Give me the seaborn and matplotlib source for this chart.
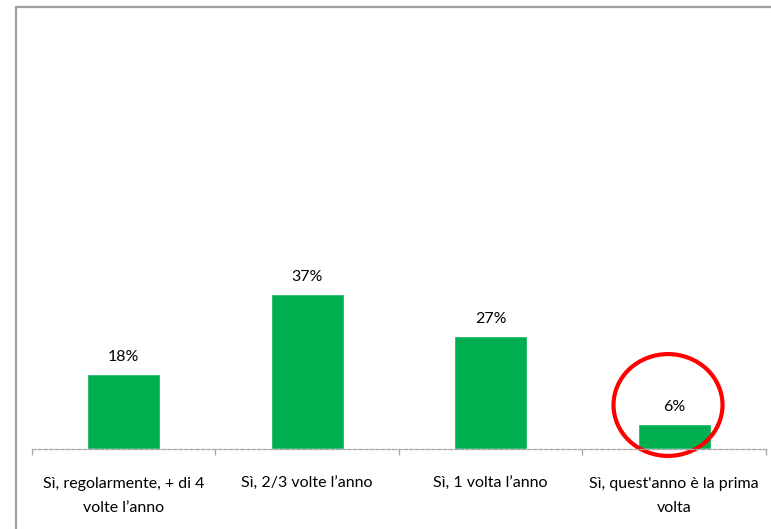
import matplotlib
matplotlib.use("Agg")
import matplotlib.pyplot as plt
from matplotlib.lines import Line2D
from matplotlib.patches import Ellipse
import seaborn as sns
import pandas as pd

# Survey answers and their shares (%)
categories = [
    "Sì, regolarmente, + di 4\nvolte l’anno",
    "Sì, 2/3 volte l’anno",
    "Sì, 1 volta l’anno",
    "Sì, quest'anno è la prima\nvolta",
]
shares = [18, 37, 27, 6]
highlight_index = 3

sns.set_theme(style="white")
plt.rcParams["font.family"] = ["Lato", "DejaVu Sans"]

W, H = 771, 529
fig = plt.figure(figsize=(W / 100, H / 100), dpi=100)
fig.patch.set_facecolor("white")

left_px, right_px, base_px, top_px = 32, 766, 449, 30
ax = fig.add_axes([left_px / W, (H - base_px) / H,
                   (right_px - left_px) / W, (base_px - top_px) / H])

df = pd.DataFrame({"category": categories, "share": shares})
sns.barplot(data=df, x="category", y="share", color="#00B050",
            saturation=1, width=0.4, ax=ax)

ax.set_xlim(-0.5, len(categories) - 0.5)
ax.set_ylim(0, 100)
ax.set_xlabel("")
ax.set_ylabel("")
ax.set_yticks([])

for s in ("top", "left", "right"):
    ax.spines[s].set_visible(False)
ax.spines["bottom"].set_color("#A6A6A6")
ax.spines["bottom"].set_linewidth(0.9)
ax.spines["bottom"].set_linestyle((0, (3, 1.5)))

# Category labels centred under bars, tick marks at category boundaries
ax.set_xticks(range(len(categories)))
ax.set_xticklabels(categories, fontsize=11.5, color="black", va="top")
for lbl in ax.get_xticklabels():
    lbl.set_linespacing(1.95)
ax.tick_params(axis="x", which="major", length=0, pad=20)
ax.set_xticks([i - 0.5 for i in range(len(categories) + 1)], minor=True)
ax.tick_params(axis="x", which="minor", bottom=True, length=4, width=0.9,
               color="#A6A6A6", direction="out")

# Value labels above each bar
for i, v in enumerate(shares):
    ax.text(i, v + 4.0, f"{v}%", ha="center", va="center",
            fontsize=11.5, color="black")

# Red ring around the last answer
ring = Ellipse((highlight_index - 0.034, 10.5), width=0.594, height=24.3,
               fill=False, edgecolor="#FF0000", linewidth=3.0, clip_on=False)
ax.add_patch(ring)

# Grey frame along the top and left edges
fig.add_artist(Line2D([16 / W, 1.0], [1 - 6.5 / H, 1 - 6.5 / H],
                      color="#A0A0A0", linewidth=1.6))
fig.add_artist(Line2D([16 / W, 16 / W], [0.0, 1 - 6.5 / H],
                      color="#A0A0A0", linewidth=1.6))

fig.savefig("out.png", dpi=100)
